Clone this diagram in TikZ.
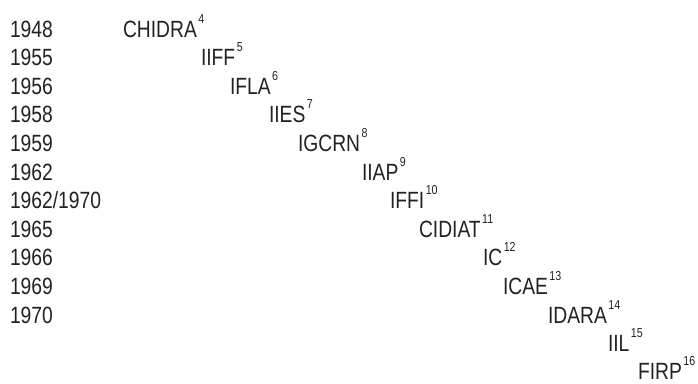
\documentclass[tikz,border=0pt]{standalone}
\usepackage{fontspec}
\setmainfont[FakeStretch=0.82]{Liberation Sans}
\definecolor{ink}{HTML}{222222}
\newcommand{\orgnote}[1]{\hspace{1.5pt}\raisebox{14pt}{\fontsize{13}{13}\selectfont #1}}
\tikzset{
  lbl/.style={anchor=base west, inner sep=0pt, outer sep=0pt, text=ink,
              text depth=0pt, font=\fontsize{23.5}{28}\selectfont}
}
\begin{document}
\begin{tikzpicture}[x=1pt,y=-1pt]
\useasboundingbox (0,0) rectangle (698,383);
% years
\node[lbl] (y1)  at (10,37.0)  {1948};
\node[lbl] (y2)  at (10,65.6)  {1955};
\node[lbl] (y3)  at (10,94.2)  {1956};
\node[lbl] (y4)  at (10,122.8) {1958};
\node[lbl] (y5)  at (10,151.4) {1959};
\node[lbl] (y6)  at (10,180.0) {1962};
\node[lbl] (y7)  at (10,208.6) {1962/1970};
\node[lbl] (y8)  at (10,237.2) {1965};
\node[lbl] (y9)  at (10,265.8) {1966};
\node[lbl] (y10) at (10,294.4) {1969};
\node[lbl] (y11) at (10,323.0) {1970};
% organisations
\node[lbl] (o1)  at (123,37.0)  {CHIDRA\orgnote{4}};
\node[lbl] (o2)  at (201,65.6)  {IIFF\orgnote{5}};
\node[lbl] (o3)  at (230,94.2)  {IFLA\orgnote{6}};
\node[lbl] (o4)  at (269,122.8) {IIES\orgnote{7}};
\node[lbl] (o5)  at (298,151.4) {IGCRN\orgnote{8}};
\node[lbl] (o6)  at (362,180.0) {IIAP\orgnote{9}};
\node[lbl] (o7)  at (390,208.6) {IFFI\orgnote{10}};
\node[lbl] (o8)  at (419,237.2) {CIDIAT\orgnote{11}};
\node[lbl] (o9)  at (483,265.8) {IC\orgnote{12}};
\node[lbl] (o10) at (503,294.4) {ICAE\orgnote{13}};
\node[lbl] (o11) at (548,323.0) {IDARA\orgnote{14}};
\node[lbl] (o12) at (608,351.6) {IIL\orgnote{15}};
\node[lbl] (o13) at (638,379.5) {FIRP\orgnote{16}};
\end{tikzpicture}
\end{document}
